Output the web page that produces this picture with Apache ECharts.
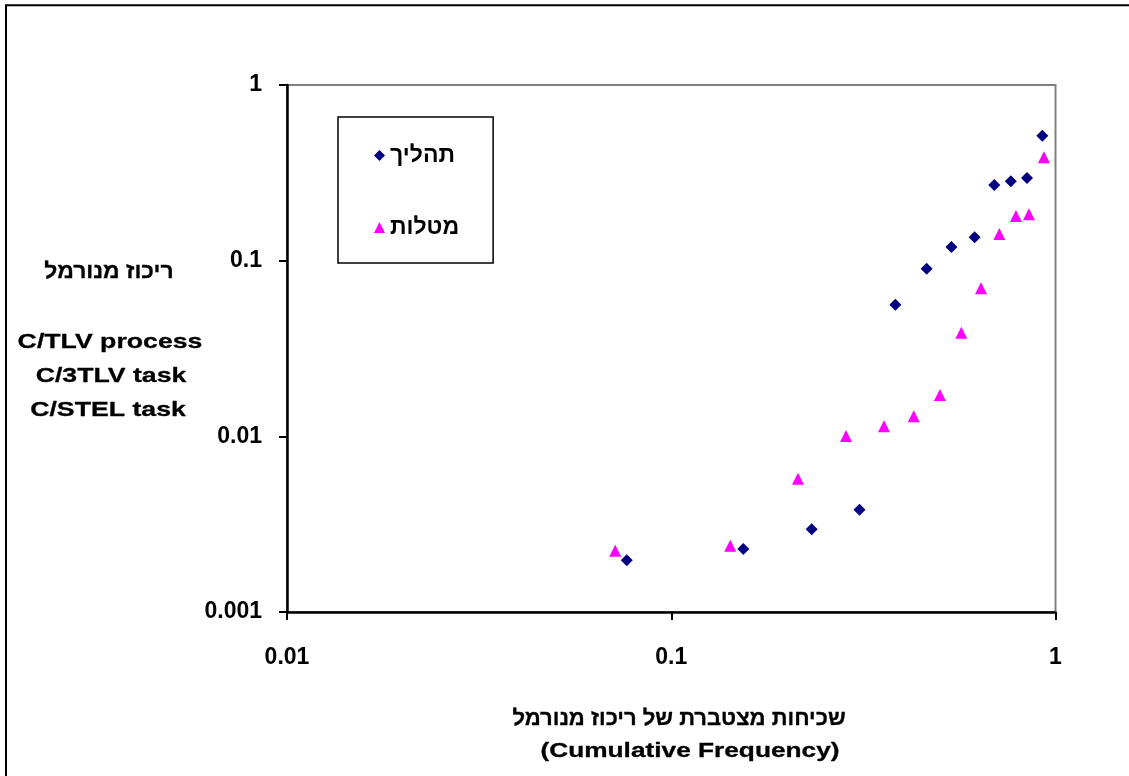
<!DOCTYPE html>
<html>
<head>
<meta charset="utf-8">
<script src="https://cdn.jsdelivr.net/npm/echarts@6/dist/echarts.min.js"></script>
<style>
  html, body { margin: 0; padding: 0; background: #fff; }
  #chart { width: 1129px; height: 776px; }
</style>
</head>
<body>
<div id="chart"></div>
<script>
// Normalized concentration vs. cumulative frequency (log–log)
const processX = [0.0766, 0.154, 0.232, 0.309, 0.383, 0.462, 0.536, 0.616, 0.693, 0.765, 0.843, 0.924];
const processY = [0.00197, 0.00228, 0.00296, 0.00382, 0.0562, 0.090, 0.1196, 0.1358, 0.2697, 0.283, 0.2955, 0.5145];

const taskX = [0.0715, 0.1424, 0.2137, 0.285, 0.3578, 0.4276, 0.5004, 0.5687, 0.640, 0.714, 0.789, 0.853, 0.933];
const taskY = [0.00223, 0.00238, 0.00574, 0.01005, 0.0114, 0.0130, 0.0172, 0.0389, 0.0696, 0.1418, 0.1796, 0.1836, 0.3877];

const seriesNames = ['תהליך', 'מטלות'];
const xTickLabels = ['0.01', '0.1', '1'];
const yTickLabels = ['0.001', '0.01', '0.1', '1'];
const xTitleLines = ['שכיחות מצטברת של ריכוז מנורמל', '(Cumulative Frequency)'];
const yTitleLines = ['ריכוז מנורמל', 'C/TLV process', 'C/3TLV task', 'C/STEL task'];

const FONT = 'Arial, "Liberation Sans", "DejaVu Sans", sans-serif';

function pairs(xs, ys) { return xs.map((x, i) => [x, ys[i]]); }

// one bold title line, centred on (cx, cy), widened by sx
function titleLine(text, cx, cy, sx, size) {
  return {
    type: 'text', silent: true,
    x: cx, y: cy, scaleX: sx, scaleY: 1,
    style: {
      text: text,
      fontFamily: FONT, fontWeight: 'bold', fontSize: size || 21,
      fill: '#000', align: 'center', verticalAlign: 'middle',
      stroke: '#000', lineWidth: 0.3
    }
  };
}

const chart = echarts.init(document.getElementById('chart'), null, { renderer: 'canvas' });

chart.setOption({
  backgroundColor: '#ffffff',
  animation: false,
  textStyle: { fontFamily: FONT },
  grid: {
    left: 287, right: 73.5, top: 85, bottom: 164,
    show: true, borderColor: '#808080', borderWidth: 2, backgroundColor: 'transparent'
  },
  legend: {
    orient: 'vertical',
    left: 338, top: 117,
    padding: [27, 34, 24, 36],
    itemGap: 49,
    itemWidth: 11, itemHeight: 11,
    itemStyle: { opacity: 1 },
    borderColor: '#000', borderWidth: 1.5,
    data: [
      { name: seriesNames[0], icon: 'diamond' },
      { name: seriesNames[1], icon: 'triangle' }
    ],
    textStyle: { fontFamily: FONT, fontWeight: 'bold', fontSize: 23, color: '#000' }
  },
  xAxis: {
    type: 'log', logBase: 10, min: 0.01, max: 1,
    axisLine: { show: true, lineStyle: { color: '#000', width: 2.5 } },
    axisTick: { show: true, inside: false, length: 8, lineStyle: { color: '#000', width: 2 } },
    minorTick: { show: false },
    splitLine: { show: false },
    axisLabel: {
      margin: 34,
      fontFamily: FONT, fontWeight: 'bold', fontSize: 23, color: '#000',
      formatter: v => xTickLabels[Math.round(Math.log10(v)) + 2]
    }
  },
  yAxis: {
    type: 'log', logBase: 10, min: 0.001, max: 1,
    axisLine: { show: true, lineStyle: { color: '#000', width: 2.5 } },
    axisTick: { show: true, inside: false, length: 8, lineStyle: { color: '#000', width: 2 } },
    minorTick: { show: false },
    splitLine: { show: false },
    axisLabel: {
      margin: 25,
      fontFamily: FONT, fontWeight: 'bold', fontSize: 23, color: '#000',
      formatter: v => yTickLabels[Math.round(Math.log10(v)) + 3]
    }
  },
  graphic: [
    {
      type: 'rect', silent: true,
      shape: { x: 6, y: 5.3, width: 1300, height: 900 },
      style: { fill: 'none', stroke: '#000', lineWidth: 2 }
    },
    titleLine(xTitleLines[0], 679, 719, 1.0, 22),
    titleLine(xTitleLines[1], 690, 751, 1.25),
    titleLine(yTitleLines[0], 109, 272, 1.04, 22),
    titleLine(yTitleLines[1], 110, 342, 1.27),
    titleLine(yTitleLines[2], 111, 376, 1.27),
    titleLine(yTitleLines[3], 108, 410, 1.27)
  ],
  series: [
    {
      name: seriesNames[0], type: 'scatter',
      symbol: 'diamond', symbolSize: 12,
      itemStyle: { color: '#000080', opacity: 1 },
      data: pairs(processX, processY)
    },
    {
      name: seriesNames[1], type: 'scatter',
      symbol: 'triangle', symbolSize: 12,
      itemStyle: { color: '#FF00FF', opacity: 1 },
      data: pairs(taskX, taskY)
    }
  ]
});
</script>
</body>
</html>
